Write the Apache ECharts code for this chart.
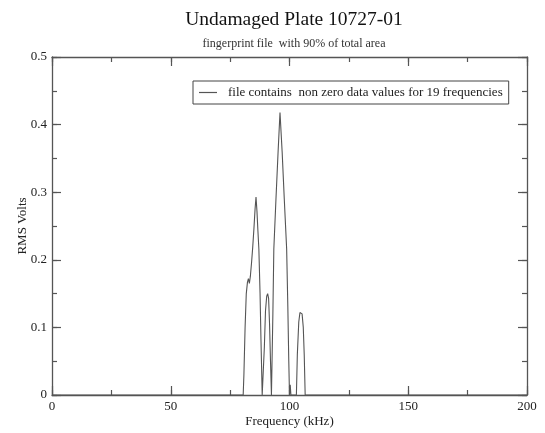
<!DOCTYPE html>
<html>
<head>
<meta charset="utf-8">
<script src="https://cdn.jsdelivr.net/npm/echarts@6/dist/echarts.min.js"></script>
<style>
html,body{margin:0;padding:0;background:#fff;}
#c{width:545px;height:433px;}
</style>
</head>
<body>
<div id="c"></div>
<script>
// Frequencies (kHz) and RMS Volts
var freq = [0, 80.5, 80.8, 81.3, 81.8, 82.3, 82.7, 83.1, 83.5, 84.0, 84.5, 85.0, 85.5, 85.9, 86.3, 86.7, 87.1, 87.6, 88.0, 88.5,
  89.0, 89.4, 89.9, 90.4, 90.8, 91.2, 91.6, 92.0, 92.4,
  92.7, 93.0, 93.4, 94.3, 95.2, 96.0, 96.9, 97.8, 98.8, 99.3, 99.7, 100.0, 100.3, 100.6,
  102.9, 103.3, 103.9, 104.4, 104.8, 105.3, 105.8, 106.2, 106.6, 200];
var rms = [0, 0, 0.03, 0.10, 0.15, 0.167, 0.172, 0.165, 0.175, 0.195, 0.218, 0.245, 0.275, 0.293, 0.272, 0.243, 0.216, 0.15, 0.08, 0,
  0, 0.07, 0.125, 0.146, 0.150, 0.143, 0.105, 0.05, 0,
  0, 0.12, 0.216, 0.29, 0.36, 0.418, 0.36, 0.29, 0.216, 0.13, 0.05, 0, 0.015, 0,
  0, 0.06, 0.108, 0.122, 0.124, 0.12, 0.10, 0.06, 0, 0];
var xMajor = 50, xMinor = 25, xMin = 0, xMax = 200;
var yMajor = 0.1, yMinor = 0.05, yMin = 0, yMax = 0.5;
var titleText = 'Undamaged Plate 10727-01';
var subText = 'fingerprint file  with 90% of total area';
var seriesName = 'file contains  non zero data values for 19 frequencies';
var xName = 'Frequency (kHz)';
var yName = 'RMS Volts';

var pts = freq.map(function (f, i) { return [f, rms[i]]; });
var serif = 'Liberation Serif';
var axisCol = '#555';

function ax(o) {
  var a = {
    type: 'value',
    min: o.min, max: o.max, interval: o.interval,
    position: o.position,
    axisLine: {show: !!o.line, onZero: false, lineStyle: {color: axisCol, width: 1.3}},
    axisTick: {show: true, inside: true, length: o.len, lineStyle: {color: axisCol, width: 1.2}},
    minorTick: {show: false},
    splitLine: {show: false},
    axisLabel: {show: false}
  };
  if (o.labels) {
    a.axisLabel = {show: true, color: '#222', fontFamily: serif, fontSize: 13, margin: o.margin};
  }
  if (o.name) {
    a.name = o.name; a.nameLocation = 'middle'; a.nameGap = o.nameGap;
    a.nameMoveOverlap = false;
    if (o.nameRotate) a.nameRotate = o.nameRotate;
    a.nameTextStyle = {fontFamily: serif, fontSize: 13, color: '#222'};
  }
  return a;
}

var chart = echarts.init(document.getElementById('c'), null, {renderer: 'canvas'});
chart.setOption({
  animation: false,
  backgroundColor: '#fff',
  title: {
    text: titleText,
    subtext: subText,
    left: 289,
    textAlign: 'center',
    top: 5,
    itemGap: 8,
    textStyle: {fontFamily: serif, fontSize: 19.5, fontWeight: 'normal', color: '#111'},
    subtextStyle: {fontFamily: serif, fontSize: 12, color: '#333'}
  },
  legend: {
    show: true,
    left: 193,
    top: 81,
    padding: [5, 6, 5, 6],
    borderColor: '#444',
    borderWidth: 1,
    icon: 'rect',
    itemWidth: 18,
    itemHeight: 1.2,
    textStyle: {fontFamily: serif, fontSize: 13, color: '#222', padding: [0, 0, 0, 6]},
    data: [seriesName]
  },
  grid: {left: 52, right: 18, top: 57, bottom: 36, containLabel: false},
  xAxis: [
    ax({min: xMin, max: xMax, interval: xMajor, position: 'bottom', line: true, len: 9, labels: true, margin: 5, name: xName, nameGap: 20}),
    ax({min: xMin, max: xMax, interval: xMinor, position: 'bottom', len: 5}),
    ax({min: xMin, max: xMax, interval: xMajor, position: 'top', line: true, len: 9}),
    ax({min: xMin, max: xMax, interval: xMinor, position: 'top', len: 5})
  ],
  yAxis: [
    ax({min: yMin, max: yMax, interval: yMajor, position: 'left', line: true, len: 9, labels: true, margin: 5, name: yName, nameGap: 23, nameRotate: 90}),
    ax({min: yMin, max: yMax, interval: yMinor, position: 'left', len: 5}),
    ax({min: yMin, max: yMax, interval: yMajor, position: 'right', line: true, len: 9}),
    ax({min: yMin, max: yMax, interval: yMinor, position: 'right', len: 5})
  ],
  series: [{
    name: seriesName,
    type: 'line',
    data: pts,
    xAxisIndex: 0,
    yAxisIndex: 0,
    symbol: 'none',
    smooth: false,
    lineStyle: {color: '#555', width: 1.1},
    itemStyle: {color: '#555'}
  }]
});
</script>
</body>
</html>
